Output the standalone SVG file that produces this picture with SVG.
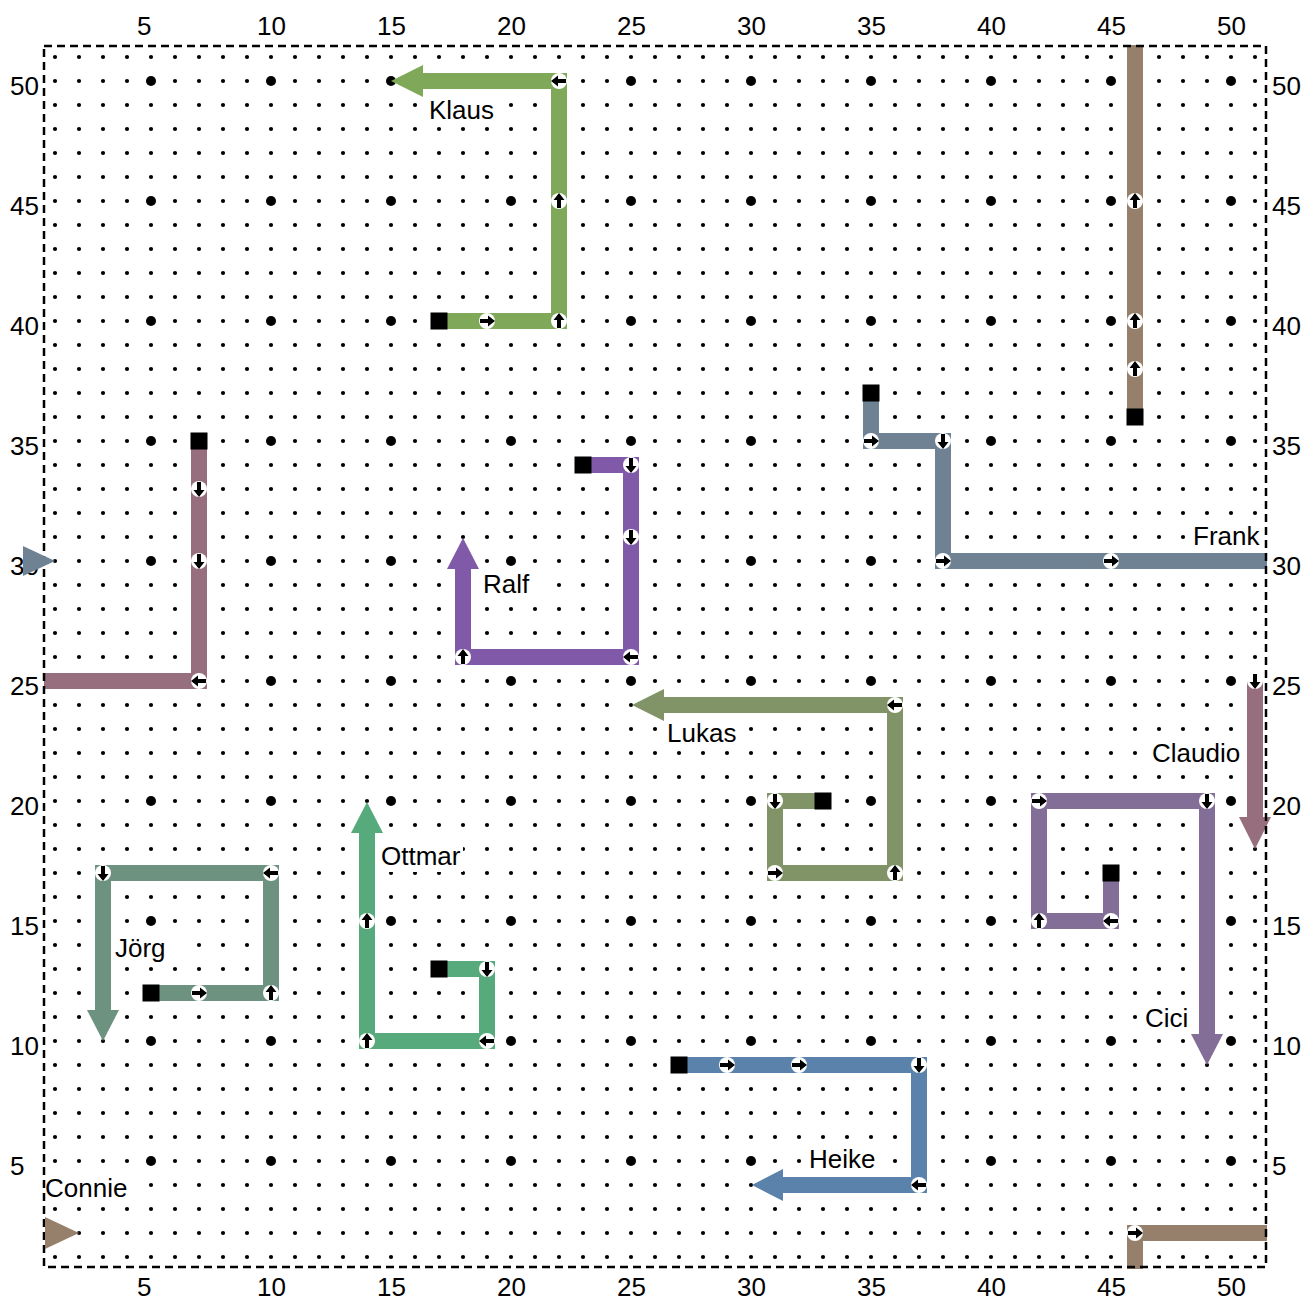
<svg xmlns="http://www.w3.org/2000/svg" xmlns:xlink="http://www.w3.org/1999/xlink" width="1304" height="1298" viewBox="0 0 1304 1298">
<style>
.t{font-family:"Liberation Sans",Arial,Helvetica,sans-serif;font-size:26px;fill:#000}
.bg{fill:#fff}
.p{fill:none;stroke-width:16;stroke-linejoin:miter;stroke-linecap:butt}
.sq{fill:#000}
.klaus{stroke:#7fa858}.klausf{fill:#7fa858}
.connie{stroke:#96806c}.connief{fill:#96806c}
.frank{stroke:#6e8294}.frankf{fill:#6e8294}
.claudio{stroke:#966e7d}.claudiof{fill:#966e7d}
.ralf{stroke:#805aa8}.ralff{fill:#805aa8}
.lukas{stroke:#809468}.lukasf{fill:#809468}
.cici{stroke:#826e96}.cicif{fill:#826e96}
.jorg{stroke:#6e9280}.jorgf{fill:#6e9280}
.ottmar{stroke:#56aa7c}.ottmarf{fill:#56aa7c}
.heike{stroke:#5a82aa}.heikef{fill:#5a82aa}
</style>
<defs>
<pattern id="small" x="43" y="45" width="24" height="24" patternUnits="userSpaceOnUse"><circle cx="12" cy="12" r="2.1" fill="#000"/></pattern>
<pattern id="big" x="91" y="21" width="120" height="120" patternUnits="userSpaceOnUse"><circle cx="60" cy="60" r="5" fill="#000"/></pattern>
<g id="mk"><circle r="8" fill="#fff"/><path d="M-7,-2 H1 V-5.5 L8,0 L1,5.5 V2 H-7 Z" fill="#000"/></g>
</defs>
<rect width="1304" height="1298" fill="#fff"/>
<g id="grid">
<rect x="43" y="45" width="1224" height="1224" fill="url(#small)"/>
<rect x="43" y="45" width="1224" height="1224" fill="url(#big)"/>
</g>
<g id="label-backgrounds" class="bg">
<rect x="426" y="93" width="72" height="33"/>
<rect x="480" y="567" width="57" height="33"/>
<rect x="1190" y="519" width="72" height="33"/>
<rect x="664" y="716" width="76" height="33"/>
<rect x="1149" y="736" width="95" height="33"/>
<rect x="378" y="839" width="85" height="33"/>
<rect x="112" y="931" width="66" height="33"/>
<rect x="1142" y="1001" width="50" height="33"/>
<rect x="806" y="1142" width="73" height="33"/>
<rect x="42" y="1171" width="89" height="33"/>
</g>
<g id="connectors">
<g id="klaus">
<path class="p klaus" d="M439,321 H559 V81 H422"/>
<polygon class="klausf" points="423,65 391,81 423,97"/>
<use href="#mk" transform="translate(487,321)"/>
<use href="#mk" transform="translate(559,321) rotate(-90)"/>
<use href="#mk" transform="translate(559,201) rotate(-90)"/>
<use href="#mk" transform="translate(559,81) rotate(180)"/>
<rect class="sq" x="430.5" y="312.5" width="17" height="17"/>
</g>
<g id="connie">
<path class="p connie" d="M1135,417 V45"/>
<path class="p connie" d="M1135,1269 V1233 H1267"/>
<use href="#mk" transform="translate(1135,369) rotate(-90)"/>
<use href="#mk" transform="translate(1135,321) rotate(-90)"/>
<use href="#mk" transform="translate(1135,201) rotate(-90)"/>
<use href="#mk" transform="translate(1135,1233)"/>
<rect class="sq" x="1126.5" y="408.5" width="17" height="17"/>
</g>
<g id="frank">
<path class="p frank" d="M871,393 V441 H943 V561 H1267"/>
<use href="#mk" transform="translate(871,441)"/>
<use href="#mk" transform="translate(943,441) rotate(90)"/>
<use href="#mk" transform="translate(943,561)"/>
<use href="#mk" transform="translate(1111,561)"/>
<rect class="sq" x="862.5" y="384.5" width="17" height="17"/>
</g>
<g id="claudio">
<path class="p claudio" d="M199,441 V681 H44"/>
<path class="p claudio" d="M1255,681 V818"/>
<polygon class="claudiof" points="1239,817 1255,849 1271,817"/>
<use href="#mk" transform="translate(199,489) rotate(90)"/>
<use href="#mk" transform="translate(199,561) rotate(90)"/>
<use href="#mk" transform="translate(199,681) rotate(180)"/>
<use href="#mk" transform="translate(1255,681) rotate(90)"/>
<rect class="sq" x="190.5" y="432.5" width="17" height="17"/>
</g>
<g id="ralf">
<path class="p ralf" d="M583,465 H631 V657 H463 V568"/>
<polygon class="ralff" points="447,569 463,538 479,569"/>
<use href="#mk" transform="translate(631,465) rotate(90)"/>
<use href="#mk" transform="translate(631,537) rotate(90)"/>
<use href="#mk" transform="translate(631,657) rotate(180)"/>
<use href="#mk" transform="translate(463,657) rotate(-90)"/>
<rect class="sq" x="574.5" y="456.5" width="17" height="17"/>
</g>
<g id="lukas">
<path class="p lukas" d="M823,801 H775 V873 H895 V705 H663"/>
<polygon class="lukasf" points="664,689 632,705 664,721"/>
<use href="#mk" transform="translate(775,801) rotate(90)"/>
<use href="#mk" transform="translate(775,873)"/>
<use href="#mk" transform="translate(895,873) rotate(-90)"/>
<use href="#mk" transform="translate(895,705) rotate(180)"/>
<rect class="sq" x="814.5" y="792.5" width="17" height="17"/>
</g>
<g id="cici">
<path class="p cici" d="M1111,873 V921 H1039 V801 H1207 V1035"/>
<polygon class="cicif" points="1191,1034 1207,1065 1223,1034"/>
<use href="#mk" transform="translate(1111,921) rotate(180)"/>
<use href="#mk" transform="translate(1039,921) rotate(-90)"/>
<use href="#mk" transform="translate(1039,801)"/>
<use href="#mk" transform="translate(1207,801) rotate(90)"/>
<rect class="sq" x="1102.5" y="864.5" width="17" height="17"/>
</g>
<g id="jorg">
<path class="p jorg" d="M151,993 H271 V873 H103 V1011"/>
<polygon class="jorgf" points="87,1010 103,1041 119,1010"/>
<use href="#mk" transform="translate(199,993)"/>
<use href="#mk" transform="translate(271,993) rotate(-90)"/>
<use href="#mk" transform="translate(271,873) rotate(180)"/>
<use href="#mk" transform="translate(103,873) rotate(90)"/>
<rect class="sq" x="142.5" y="984.5" width="17" height="17"/>
</g>
<g id="ottmar">
<path class="p ottmar" d="M439,969 H487 V1041 H367 V832"/>
<polygon class="ottmarf" points="351,833 367,802 383,833"/>
<use href="#mk" transform="translate(487,969) rotate(90)"/>
<use href="#mk" transform="translate(487,1041) rotate(180)"/>
<use href="#mk" transform="translate(367,1041) rotate(-90)"/>
<use href="#mk" transform="translate(367,921) rotate(-90)"/>
<rect class="sq" x="430.5" y="960.5" width="17" height="17"/>
</g>
<g id="heike">
<path class="p heike" d="M679,1065 H919 V1185 H782"/>
<polygon class="heikef" points="783,1169 752,1185 783,1201"/>
<use href="#mk" transform="translate(727,1065)"/>
<use href="#mk" transform="translate(799,1065)"/>
<use href="#mk" transform="translate(919,1065) rotate(90)"/>
<use href="#mk" transform="translate(919,1185) rotate(180)"/>
<rect class="sq" x="670.5" y="1056.5" width="17" height="17"/>
</g>
</g>
<rect id="border" x="44" y="46" width="1222" height="1221" fill="none" stroke="#000" stroke-width="2.5" stroke-dasharray="8,5"/>
<g id="ticks" class="t">
<text x="137" y="35">5</text><text x="257" y="35">10</text><text x="377" y="35">15</text><text x="497" y="35">20</text><text x="617" y="35">25</text><text x="737" y="35">30</text><text x="857" y="35">35</text><text x="977" y="35">40</text><text x="1097" y="35">45</text><text x="1217" y="35">50</text>
<text x="137" y="1296">5</text><text x="257" y="1296">10</text><text x="377" y="1296">15</text><text x="497" y="1296">20</text><text x="617" y="1296">25</text><text x="737" y="1296">30</text><text x="857" y="1296">35</text><text x="977" y="1296">40</text><text x="1097" y="1296">45</text><text x="1217" y="1296">50</text>
<text x="10" y="95">50</text><text x="10" y="215">45</text><text x="10" y="335">40</text><text x="10" y="455">35</text><text x="10" y="575">30</text><text x="10" y="695">25</text><text x="10" y="815">20</text><text x="10" y="935">15</text><text x="10" y="1055">10</text><text x="10" y="1175">5</text>
<text x="1272" y="95">50</text><text x="1272" y="215">45</text><text x="1272" y="335">40</text><text x="1272" y="455">35</text><text x="1272" y="575">30</text><text x="1272" y="695">25</text><text x="1272" y="815">20</text><text x="1272" y="935">15</text><text x="1272" y="1055">10</text><text x="1272" y="1175">5</text>
</g>
<g id="entries">
<polygon class="frankf" points="23,546 55,561 23,576"/>
<polygon class="connief" points="45,1217 79,1233 45,1249"/>
</g>
<g id="names" class="t">
<text x="429" y="119">Klaus</text>
<text x="483" y="593">Ralf</text>
<text x="1193" y="545">Frank</text>
<text x="667" y="742">Lukas</text>
<text x="1152" y="762">Claudio</text>
<text x="381" y="865">Ottmar</text>
<text x="115" y="957">Jörg</text>
<text x="1145" y="1027">Cici</text>
<text x="809" y="1168">Heike</text>
<text x="45" y="1197">Connie</text>
</g>
</svg>
